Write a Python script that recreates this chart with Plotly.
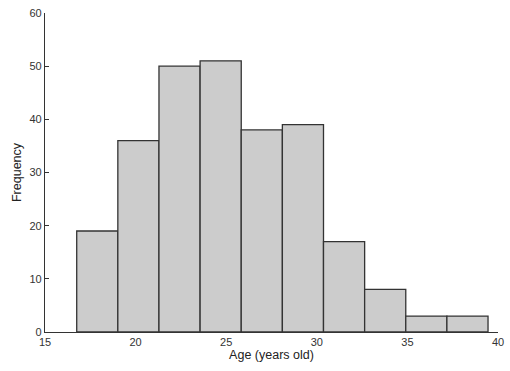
import plotly.graph_objects as go

bin_start = 16.75
bin_width = 2.27
counts = [19, 36, 50, 51, 38, 39, 17, 8, 3, 3]
x_ticks = [15, 20, 25, 30, 35, 40]
y_ticks = [0, 10, 20, 30, 40, 50, 60]

centers = [bin_start + bin_width * (i + 0.5) for i in range(len(counts))]

fig = go.Figure(go.Bar(
    x=centers, y=counts, width=bin_width,
    marker=dict(color="#cccccc", line=dict(color="#333333", width=1.3)),
    cliponaxis=False,
))

axis_font = dict(family="Arial, Liberation Sans, sans-serif", size=11, color="#333333")
fig.update_layout(
    width=510, height=371,
    margin=dict(l=45, r=12, t=13, b=39, autoexpand=False),
    plot_bgcolor="white", paper_bgcolor="white",
    showlegend=False,
    font=dict(family="Arial, Liberation Sans, sans-serif", color="#333333"),
    xaxis=dict(range=[15, 40], tickvals=x_ticks, showgrid=False, zeroline=False,
               automargin=False,
               showline=True, linecolor="#333333", linewidth=1.3,
               ticks="",
               tickfont=axis_font,
               title=dict(text="Age (years old)", font=dict(size=12.5, color="#222222"), standoff=2)),
    yaxis=dict(range=[0, 60], tickvals=y_ticks, showgrid=False, zeroline=False,
               automargin=False,
               showline=True, linecolor="#333333", linewidth=1.3,
               ticks="inside", ticklen=4, tickcolor="#333333", tickwidth=1.2,
               tickfont=axis_font,
               title=dict(text="Frequency", font=dict(size=12.5, color="#222222"), standoff=5)),
)

fig.write_html("out.html", config={"displayModeBar": False},
               post_script="document.body.style.margin='0';document.body.style.overflow='hidden';")
